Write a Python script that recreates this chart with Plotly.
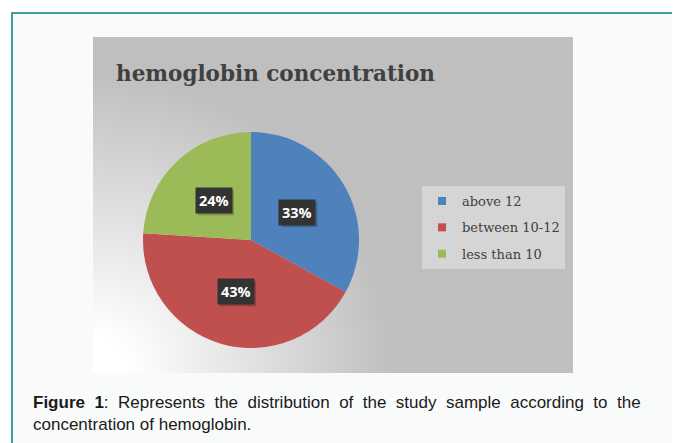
import numpy as np
import plotly.graph_objects as go

# page body adds an 8px margin, so the figure is 8px smaller and coordinates are shifted
PAGE_W, PAGE_H, OFF = 680, 443, 8
W, H = PAGE_W - OFF, PAGE_H - OFF

# ---- data ----
labels = ["above 12", "between 10-12", "less than 10"]
values = [33, 43, 24]
colors = ["#4f81bd", "#c0504d", "#9bbb59"]
title_text = "hemoglobin concentration"
caption_1_words = ["<b>Figure", "1</b>:", "Represents", "the", "distribution", "of", "the",
                   "study", "sample", "according", "to", "the"]
caption_2 = "concentration of hemoglobin."


def px(x):
    return (x - OFF) / W


def py(y):
    return 1 - (y - OFF) / H


# layout geometry (page pixels)
panel = (93, 37, 573, 373)          # grey chart panel
pie_cx, pie_cy, pie_r = 251, 240, 108
label_box_w, label_box_h = 36, 25

fig = go.Figure()

# panel shading (style only): light corner at bottom-left fading to grey
pw, ph = panel[2] - panel[0], panel[3] - panel[1]
gx = np.linspace(0, pw, 49)
gy = np.linspace(0, ph, 35)
shade = np.hypot(gx[None, :], gy[:, None])
fig.add_trace(go.Heatmap(
    x=gx, y=gy, z=shade, zmin=0, zmax=300, zsmooth="best",
    colorscale=[[0, "#ffffff"], [0.12, "#ffffff"], [1, "#bfbfbf"]],
    showscale=False, hoverinfo="skip", xaxis="x", yaxis="y"))

# pie
fig.add_trace(go.Pie(
    labels=labels, values=values, sort=False, direction="clockwise", rotation=0,
    marker=dict(colors=colors), textinfo="none", showlegend=False,
    domain=dict(x=[px(pie_cx - pie_r), px(pie_cx + pie_r)],
                y=[py(pie_cy + pie_r), py(pie_cy - pie_r)])))

# legend entries
for lab, col in zip(labels, colors):
    fig.add_trace(go.Scatter(
        x=[None], y=[None], mode="markers", name=lab, legendgroup=lab,
        marker=dict(symbol="square", size=8, color=col),
        xaxis="x", yaxis="y"))

shapes = [dict(type="rect", xref="paper", yref="paper",
               x0=px(12), x1=px(673), y0=py(450), y1=py(13),
               line=dict(color="#3f9f9b", width=2), fillcolor="#f9fbfb", layer="below")]
annotations = []
# data labels placed at the middle of each slice
total = sum(values)
cum = 0
for v in values:
    mid = (cum + v / 2) / total
    cum += v
    th = 2 * np.pi * mid
    lx = pie_cx + 0.5 * pie_r * np.sin(th)
    ly = pie_cy - 0.5 * pie_r * np.cos(th)
    # soft shadow behind the label box
    shapes.append(dict(
        type="rect", xref="paper", yref="paper", layer="above",
        x0=px(lx - label_box_w / 2 + 2), x1=px(lx + label_box_w / 2 + 2),
        y0=py(ly + label_box_h / 2 + 2), y1=py(ly - label_box_h / 2 + 2),
        line=dict(width=0), fillcolor="rgba(0,0,0,0.22)"))
    annotations.append(dict(
        x=px(lx), y=py(ly), xref="paper", yref="paper", showarrow=False,
        xanchor="center", yanchor="middle",
        text=f"<b>{round(100 * v / total)}%</b>",
        font=dict(family="Open Sans", size=14.5, color="white"),
        bgcolor="#333333", borderpad=3))

annotations.append(dict(
    x=px(114), y=py(74), xref="paper", yref="paper", xanchor="left", yanchor="middle",
    showarrow=False, text=f"<b>{title_text}</b>",
    font=dict(family="DejaVu Serif", size=21.5, color="#404040")))

caption_font = dict(family="Liberation Sans", size=17, color="#1a1a1a")
annotations.append(dict(
    x=px(31), y=py(402), xref="paper", yref="paper", xanchor="left", yanchor="middle",
    showarrow=False, text="\u00a0 ".join(caption_1_words), font=caption_font))
annotations.append(dict(
    x=px(31), y=py(424), xref="paper", yref="paper", xanchor="left", yanchor="middle",
    showarrow=False, text=caption_2, font=caption_font))

fig.update_layout(
    width=W, height=H, margin=dict(l=0, r=0, t=0, b=0),
    paper_bgcolor="white", plot_bgcolor="rgba(0,0,0,0)",
    xaxis=dict(domain=[px(panel[0]), px(panel[2])], range=[0, pw], visible=False, fixedrange=True),
    yaxis=dict(domain=[py(panel[3]), py(panel[1])], range=[0, ph], visible=False, fixedrange=True),
    legend=dict(x=px(422), y=py(186), xanchor="left", yanchor="top",
                bgcolor="#d5d5d5", tracegroupgap=6.5,
                font=dict(family="DejaVu Serif", size=13, color="#404040")),
    shapes=shapes,
    annotations=annotations,
)

fig.write_html("out.html")
